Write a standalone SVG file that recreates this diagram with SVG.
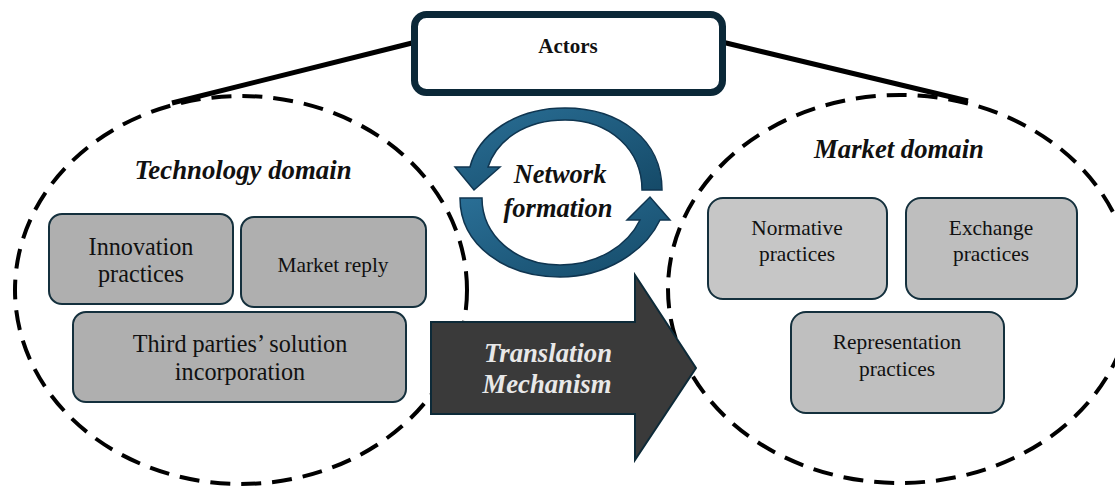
<svg xmlns="http://www.w3.org/2000/svg" width="1115" height="486" viewBox="0 0 1115 486">
<defs>
<linearGradient id="blue" x1="0" y1="0" x2="1" y2="1">
<stop offset="0" stop-color="#2a6f96"/>
<stop offset="1" stop-color="#154a68"/>
</linearGradient>
</defs>
<style>
.dom{fill:none;stroke:#000;stroke-width:4;stroke-dasharray:20 11}
.box{stroke:#14303d;stroke-width:2}
.t{font-family:'Liberation Serif','Tinos','Times New Roman','DejaVu Serif','Noto Serif',serif;fill:#111;text-anchor:middle}
.bi{font-weight:bold;font-style:italic}
.conn{stroke:#000;stroke-width:5;stroke-linecap:butt}
.circ{fill:url(#blue);stroke:#0f3550;stroke-width:1.5}
.w{fill:#e8e8e8}
</style>
<rect width="1115" height="486" fill="#fff"/>
<g id="technology-domain">
<ellipse class="dom" cx="241" cy="290" rx="226" ry="194"/>
<text class="t bi" x="243" y="179" font-size="26.8">Technology domain</text>
</g>
<g id="market-domain">
<ellipse class="dom" cx="900" cy="289" rx="232" ry="194"/>
<text class="t bi" x="899" y="158" font-size="26.7">Market domain</text>
</g>
<g id="connectors">
<line class="conn" x1="172" y1="103" x2="416" y2="42"/>
<line class="conn" x1="722" y1="42" x2="968" y2="101"/>
</g>
<g id="actors">
<rect x="414.5" y="14.5" width="308" height="78" rx="12" fill="#fff" stroke="#0b2838" stroke-width="7"/>
<text class="t" x="568" y="53" font-size="21" font-weight="bold">Actors</text>
</g>
<g id="innovation-practices">
<rect class="box" x="49" y="214" width="184" height="90" rx="13" fill="#afafaf"/>
<text class="t" x="141" y="255" font-size="24.2">Innovation</text>
<text class="t" x="141" y="282" font-size="24.2">practices</text>
</g>
<g id="market-reply">
<rect class="box" x="241" y="217" width="185" height="90" rx="13" fill="#afafaf"/>
<text class="t" x="333" y="272" font-size="21.4">Market reply</text>
</g>
<g id="third-parties">
<rect class="box" x="73" y="312" width="333" height="90" rx="13" fill="#afafaf"/>
<text class="t" x="240" y="352" font-size="24.2">Third parties’ solution</text>
<text class="t" x="240" y="380" font-size="24.2">incorporation</text>
</g>
<g id="normative-practices">
<rect class="box" x="708" y="198" width="179" height="101" rx="15" fill="#c6c6c6"/>
<text class="t" x="797" y="235" font-size="21.4">Normative</text>
<text class="t" x="797" y="261" font-size="21.4">practices</text>
</g>
<g id="exchange-practices">
<rect class="box" x="906" y="198" width="171" height="101" rx="15" fill="#bebebe"/>
<text class="t" x="991" y="235" font-size="21.4">Exchange</text>
<text class="t" x="991" y="261" font-size="21.4">practices</text>
</g>
<g id="representation-practices">
<rect class="box" x="791" y="312" width="213" height="101" rx="15" fill="#bfbfbf"/>
<text class="t" x="897" y="349" font-size="21.4">Representation</text>
<text class="t" x="897" y="376" font-size="21.4">practices</text>
</g>
<g id="network-formation">
<path class="circ" d="M 662 190 C 662 140, 620 108, 565 108 C 515 108, 478 135, 470 167 L 455 167 L 474 190 L 500 167 L 488 167 C 497 140, 525 120, 565 120 C 610 120, 642 150, 642 190 Z"/>
<path class="circ" d="M 460 198 C 460 245, 505 277, 560 277 C 605 277, 645 252, 660 220 L 670 220 L 650 197 L 627 220 L 640 220 C 628 245, 598 265, 560 265 C 515 265, 482 235, 482 198 Z"/>
<text class="t bi" x="560" y="183" font-size="26.5">Network</text>
<text class="t bi" x="558" y="217" font-size="26.5">formation</text>
</g>
<g id="translation-mechanism">
<path d="M 431 322 L 635 322 L 635 275 L 696 368 L 635 460 L 635 414 L 431 414 Z" fill="#3a3a3a" stroke="#0d2a38" stroke-width="2"/>
<text class="t bi w" x="548" y="362" font-size="26.7">Translation</text>
<text class="t bi w" x="547" y="393" font-size="26.7">Mechanism</text>
</g>
</svg>
